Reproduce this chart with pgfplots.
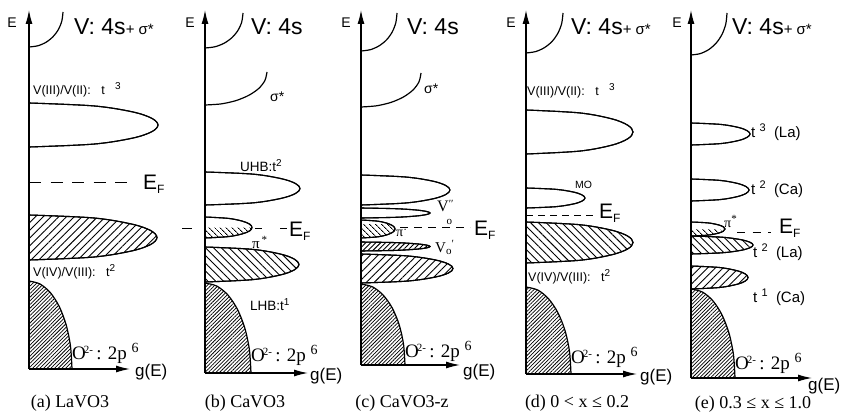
\documentclass[border=0pt]{standalone}
\usepackage{fontspec}
\setmainfont{Liberation Serif}
\newfontfamily\hv{Liberation Sans}
\usepackage{pgfplots}
\pgfplotsset{compat=1.18}
\usetikzlibrary{arrows.meta,patterns.meta}

\newcommand\fs[1]{\fontsize{#1}{#1}\selectfont}

\pgfplotsset{
  band/.style={black, line width=1.1pt, smooth, tension=0.55, preaction={fill=white}},
  ne/.style={pattern={Lines[angle=45,distance=5.5pt,line width=0.9pt]}},
  nefine/.style={pattern={Lines[angle=45,distance=3.5pt,line width=0.9pt]}},
  nw/.style={pattern={Lines[angle=-45,distance=5.5pt,line width=0.9pt]}},
  nwfine/.style={draw=none, pattern={Lines[angle=-45,distance=4pt,line width=0.9pt]}},
  dense/.style={draw=none, pattern={Lines[angle=45,distance=2.6pt,line width=0.75pt]}},
  edge/.style={black, line width=1.2pt, smooth},
  arr/.style={black, line width=1.2pt, -{Latex[length=14pt,width=7pt]}},
  fermi/.style={black, line width=1pt},
}
\tikzset{
  lab/.style={anchor=west, inner sep=0pt},
}

\begin{document}
\begin{tikzpicture}
\begin{axis}[
  scale only axis, width=842pt, height=412pt,
  xmin=0, xmax=842, ymin=0, ymax=412, y dir=reverse,
  axis line style={draw=none}, ticks=none, clip=false, no markers,
]
% ---------------- (a) LaVO3 ----------------
\addplot[fermi, dash pattern=on 12pt off 9.5pt] coordinates {(29,182) (132,182)};
\addplot[band] coordinates {(29,103) (93.5,105.9) (132.2,111.8) (151.6,118.2) (158,125) (151.6,131.8) (132.2,138.2) (93.5,144.1) (29,147)};
\addplot[band, ne] coordinates {(29,215) (93,217.9) (131.4,224) (150.6,230.5) (157,237.5) (150.6,244.5) (131.4,251) (93,257.1) (29,260)};
\addplot[dense] coordinates {(29,281) (40.1,284) (50.5,292.8) (59.4,306.8) (66.2,325) (70.5,346.2) (72,369) (29,369)};
\addplot[edge] coordinates {(29,281) (40.1,284) (50.5,292.8) (59.4,306.8) (66.2,325) (70.5,346.2) (72,369)};
\addplot[edge] coordinates {(29,47) (37.8,45.8) (46,42.3) (53,36.7) (58.4,29.5) (61.8,21.1) (63,12)};
\addplot[arr] coordinates {(29,369) (29,10)};
\addplot[arr] coordinates {(29,369) (130,369)};

\node[font=\hv\fs{14}] at (axis cs:12,23) {E};
\node[lab, font=\hv\fs{23}] at (axis cs:74,27) {V: 4s{\fs{15}+ σ*}};
\node[lab, font=\hv\fs{12.5}] at (axis cs:33,90) {V(III)/V(II):\ \ \ t\ \ \ \raisebox{5pt}{\fs{10}3}};
\node[lab, font=\hv\fs{21}] at (axis cs:143,184) {E\raisebox{-4pt}{\fs{12}F}};
\node[lab, font=\hv\fs{12.5}] at (axis cs:33,272) {V(IV)/V(III):\ \ \ t\raisebox{5pt}{\fs{10}2}};
\node[lab, font=\fs{19}] at (axis cs:72,353) {O\hspace{-2pt}\raisebox{6pt}{\fs{11}2-}\,: 2p\ \raisebox{7pt}{\fs{14}6}};
\node[lab, font=\hv\fs{17}] at (axis cs:135,372) {g(E)};
\node[font=\fs{18}] at (axis cs:70,403) {(a) LaVO3};

% ---------------- (b) CaVO3 ----------------
\addplot[fermi, dash pattern=on 10pt off 63pt on 7pt off 18pt on 7pt off 100pt] coordinates {(182,228) (287,228)};
\addplot[band] coordinates {(205,172) (252.5,174.1) (281,178.6) (295.3,183.4) (300,188.5) (295.3,193.6) (281,198.4) (252.5,202.9) (205,205)};
\addplot[band] coordinates {(205,217) (228.5,218.4) (242.6,221.2) (249.7,224.2) (252,227.5) (249.7,230.8) (242.6,233.8) (228.5,236.6) (205,238)};
\addplot[nwfine] coordinates {(205,227.5) (252,227.5) (249.7,230.8) (242.6,233.8) (228.5,236.6) (205,238)};
\addplot[band, nw] coordinates {(205,247) (252,249.3) (280.2,254) (294.3,259.1) (299,264.5) (294.3,269.9) (280.2,275) (252,279.7) (205,282)};
\addplot[dense] coordinates {(205,283) (216.9,286.1) (228,295.1) (237.5,309.4) (244.8,328) (249.4,349.7) (251,373) (205,373)};
\addplot[edge] coordinates {(205,283) (216.9,286.1) (228,295.1) (237.5,309.4) (244.8,328) (249.4,349.7) (251,373)};
\addplot[edge] coordinates {(205,105) (221.1,103.9) (236,100.6) (248.8,95.3) (258.7,88.5) (264.9,80.5) (267,72)};
\addplot[edge] coordinates {(205,48) (214.8,46.8) (224,43.3) (231.9,37.7) (237.9,30.5) (241.7,22.1) (243,13)};
\addplot[arr] coordinates {(205,373) (205,10)};
\addplot[arr] coordinates {(205,373) (308,373)};

\node[font=\hv\fs{14}] at (axis cs:190,23) {E};
\node[lab, font=\hv\fs{23}] at (axis cs:251,27) {V: 4s};
\node[lab, font=\hv\fs{14}] at (axis cs:270,97) {σ*};
\node[lab, font=\hv\fs{13.5}] at (axis cs:240,166) {UHB:t\raisebox{5pt}{\fs{10}2}};
\node[lab, font=\hv\fs{21}] at (axis cs:289,231) {E\raisebox{-4pt}{\fs{12}F}};
\node[lab, font=\fs{15}] at (axis cs:252,242) {π\raisebox{5pt}{\fs{11}\,*}};
\node[lab, font=\hv\fs{13.5}] at (axis cs:250,305) {LHB:t\raisebox{5pt}{\fs{10}1}};
\node[lab, font=\fs{19}] at (axis cs:251,355) {O\hspace{-2pt}\raisebox{6pt}{\fs{11}2-}\,: 2p\ \raisebox{7pt}{\fs{14}6}};
\node[lab, font=\hv\fs{17}] at (axis cs:310,376) {g(E)};
\node[font=\fs{18}] at (axis cs:245,403) {(b) CaVO3};

% ---------------- (c) CaVO3-z ----------------
\addplot[fermi, dash pattern=on 8pt off 6pt] coordinates {(400,227) (470,227)};
\addplot[band] coordinates {(361,175) (405.5,177) (432.2,181) (445.6,185.4) (450,190) (445.6,194.6) (432.2,199) (405.5,203) (361,205)};
\addplot[band] coordinates {(361,208) (395.5,208.7) (416.2,210) (426.6,211.5) (430,213) (426.6,214.5) (416.2,216) (395.5,217.3) (361,218)};
\addplot[band] coordinates {(361,220) (378,221.2) (388.2,223.6) (393.3,226.2) (395,229) (393.3,231.8) (388.2,234.4) (378,236.8) (361,238)};
\addplot[nwfine] coordinates {(361,224) (390.5,224) (393.3,226.2) (395,229) (393.3,231.8) (388.2,234.4) (378,236.8) (361,238)};
\addplot[band, nefine] coordinates {(361,242) (395.5,242.6) (416.2,243.8) (426.6,245.1) (430,246.5) (426.6,247.9) (416.2,249.2) (395.5,250.4) (361,251)};
\addplot[band, ne] coordinates {(361,254) (407,255.9) (434.6,259.8) (448.4,264) (453,268.5) (448.4,273) (434.6,277.2) (407,281.1) (361,283)};
\addplot[dense] coordinates {(361,284) (372.4,286.8) (383,294.9) (392.1,307.7) (399.1,324.5) (403.5,344) (405,365) (361,365)};
\addplot[edge] coordinates {(361,284) (372.4,286.8) (383,294.9) (392.1,307.7) (399.1,324.5) (403.5,344) (405,365)};
\addplot[edge] coordinates {(361,107) (376.5,105.8) (391,102.4) (403.4,97) (413,90) (419,81.8) (421,73)};
\addplot[edge] coordinates {(361,51) (370.3,49.7) (379,45.9) (386.5,39.9) (392.2,32) (395.8,22.8) (397,13)};
\addplot[arr] coordinates {(361,365) (361,10)};
\addplot[arr] coordinates {(361,365) (460,365)};

\node[font=\hv\fs{14}] at (axis cs:346,23) {E};
\node[lab, font=\hv\fs{23}] at (axis cs:407,27) {V: 4s};
\node[lab, font=\fs{14}] at (axis cs:424,89) {\hv σ*};
\node[lab, font=\fs{16}] at (axis cs:437,212) {V\raisebox{4pt}{\fs{11}′′}\hspace{-7pt}\raisebox{-13pt}{\fs{11}o}};
\node[lab, font=\fs{14}] at (axis cs:396,233) {π\raisebox{3pt}{\fs{11}·}};
\node[lab, font=\hv\fs{21}] at (axis cs:474,230) {E\raisebox{-4pt}{\fs{12}F}};
\node[lab, font=\fs{15}] at (axis cs:435,247) {V\raisebox{-2pt}{\fs{11}o}\raisebox{5pt}{\fs{11}′}};
\node[lab, font=\fs{19}] at (axis cs:405,351) {O\hspace{-2pt}\raisebox{6pt}{\fs{11}2-}\,: 2p\ \raisebox{7pt}{\fs{14}6}};
\node[lab, font=\hv\fs{17}] at (axis cs:463,372) {g(E)};
\node[font=\fs{18}] at (axis cs:402,403) {(c) CaVO3-z};

% ---------------- (d) 0 < x <= 0.2 ----------------
\addplot[fermi, dash pattern=on 7pt off 5pt] coordinates {(526,215) (597,215)};
\addplot[band] coordinates {(526,110) (579.5,112.9) (611.6,118.8) (627.7,125.2) (633,132) (627.7,138.8) (611.6,145.2) (579.5,151.1) (526,154)};
\addplot[band] coordinates {(526,188) (555.5,189.3) (573.2,192) (582,194.9) (585,198) (582,201.1) (573.2,204) (555.5,206.7) (526,208)};
\addplot[band, nw] coordinates {(526,222) (579.5,224.7) (611.6,230.2) (627.7,236.1) (633,242.5) (627.7,248.9) (611.6,254.8) (579.5,260.3) (526,263)};
\addplot[dense] coordinates {(526,287) (537.7,290) (548.5,298.7) (557.8,312.5) (565,330.5) (569.5,351.5) (571,374) (526,374)};
\addplot[edge] coordinates {(526,287) (537.7,290) (548.5,298.7) (557.8,312.5) (565,330.5) (569.5,351.5) (571,374)};
\addplot[edge] coordinates {(526,53) (535.6,51.6) (544.5,47.6) (552.2,41.3) (558,33) (561.7,23.4) (563,13)};
\addplot[arr] coordinates {(526,374) (526,10)};
\addplot[arr] coordinates {(526,374) (637,374)};

\node[font=\hv\fs{14}] at (axis cs:511,23) {E};
\node[lab, font=\hv\fs{23}] at (axis cs:571,27) {V: 4s{\fs{15}+ σ*}};
\node[lab, font=\hv\fs{12.5}] at (axis cs:527,91) {V(III)/V(II):\ \ \ t\ \ \ \raisebox{5pt}{\fs{10}3}};
\node[lab, font=\hv\fs{10.5}] at (axis cs:575,185) {MO};
\node[lab, font=\hv\fs{21}] at (axis cs:599,213) {E\raisebox{-4pt}{\fs{12}F}};
\node[lab, font=\hv\fs{12.5}] at (axis cs:528,277) {V(IV)/V(III):\ \ \ t\raisebox{5pt}{\fs{10}2}};
\node[lab, font=\fs{19}] at (axis cs:571,357) {O\hspace{-2pt}\raisebox{6pt}{\fs{11}2-}\,: 2p\ \raisebox{7pt}{\fs{14}6}};
\node[lab, font=\hv\fs{17}] at (axis cs:640,377) {g(E)};
\node[font=\fs{18}] at (axis cs:577,403) {(d) 0 < x ≤ 0.2};

% ---------------- (e) 0.3 <= x <= 1.0 ----------------
\addplot[fermi, dash pattern=on 8pt off 7.5pt] coordinates {(737,232) (771,232)};
\addplot[band] coordinates {(691,123) (720.5,124.4) (738.2,127.4) (747,130.6) (750,134) (747,137.4) (738.2,140.6) (720.5,143.6) (691,145)};
\addplot[band] coordinates {(691,179) (720,180.4) (737.4,183.4) (746.1,186.6) (749,190) (746.1,193.4) (737.4,196.6) (720,199.6) (691,201)};
\addplot[band, nw] coordinates {(691,236) (722,237.2) (740.6,239.6) (749.9,242.2) (753,245) (749.9,247.8) (740.6,250.4) (722,252.8) (691,254)};
\addplot[band] coordinates {(691,222) (708,222.9) (718.2,224.8) (723.3,226.8) (725,229) (723.3,231.2) (718.2,233.2) (708,235.1) (691,236)};
\addplot[nwfine] coordinates {(691,229) (725,229) (723.3,231.2) (718.2,233.2) (708,235.1) (691,236)};
\addplot[band, ne] coordinates {(691,266) (719.5,267.5) (736.6,270.6) (745.2,273.9) (748,277.5) (745.2,281.1) (736.6,284.4) (719.5,287.5) (691,289)};
\addplot[dense] coordinates {(691,289) (702.4,292) (713,300.9) (722.1,315.1) (729.1,333.5) (733.5,355) (735,378) (691,378)};
\addplot[edge] coordinates {(691,289) (702.4,292) (713,300.9) (722.1,315.1) (729.1,333.5) (733.5,355) (735,378)};
\addplot[edge] coordinates {(691,55) (700.3,53.6) (709,49.4) (716.5,42.7) (722.2,34) (725.8,23.9) (727,13)};
\addplot[arr] coordinates {(691,378) (691,10)};
\addplot[arr] coordinates {(691,378) (812,378)};

\node[font=\hv\fs{14}] at (axis cs:677,23) {E};
\node[lab, font=\hv\fs{23}] at (axis cs:732,27) {V: 4s{\fs{15}+ σ*}};
\node[lab, font=\hv\fs{15}] at (axis cs:751,132) {t\ \raisebox{6pt}{\fs{11}3}\ \ (La)};
\node[lab, font=\hv\fs{15}] at (axis cs:751,189) {t\ \raisebox{6pt}{\fs{11}2}\ \ (Ca)};
\node[lab, font=\fs{14}] at (axis cs:724,221) {π\raisebox{5pt}{\fs{11}*}};
\node[lab, font=\hv\fs{21}] at (axis cs:779,228) {E\raisebox{-4pt}{\fs{12}F}};
\node[lab, font=\hv\fs{15}] at (axis cs:753,252) {t\ \raisebox{6pt}{\fs{11}2}\ \ (La)};
\node[lab, font=\hv\fs{15}] at (axis cs:753,297) {t\ \raisebox{6pt}{\fs{11}1}\ \ (Ca)};
\node[lab, font=\fs{19}] at (axis cs:735,363) {O\hspace{-2pt}\raisebox{6pt}{\fs{11}2-}\,: 2p\ \raisebox{7pt}{\fs{14}6}};
\node[lab, font=\hv\fs{17}] at (axis cs:808,386) {g(E)};
\node[font=\fs{18}] at (axis cs:753,404) {(e) 0.3 ≤ x ≤ 1.0};
\end{axis}
\end{tikzpicture}
\end{document}
